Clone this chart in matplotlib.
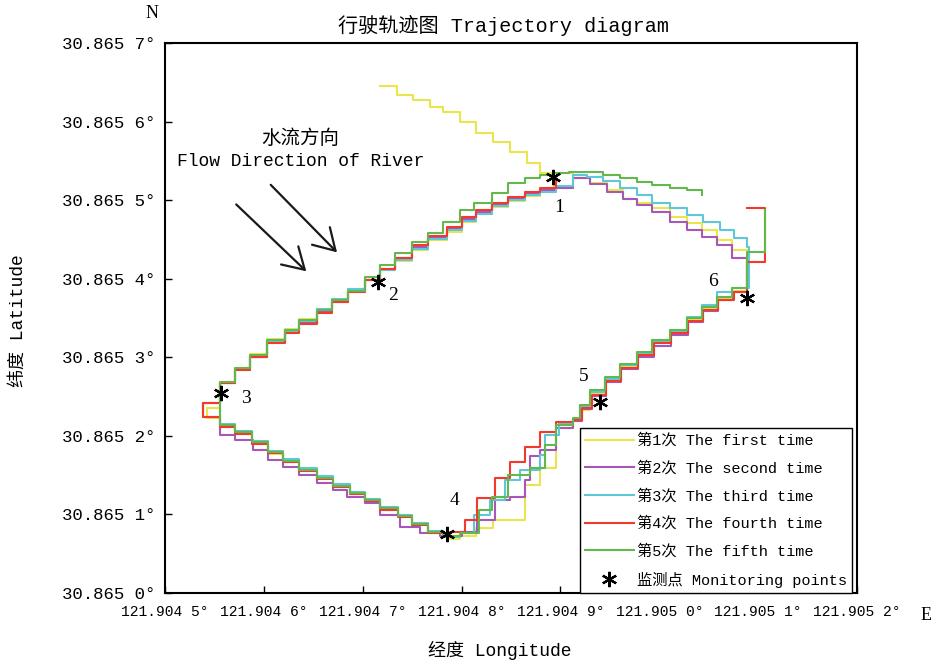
import numpy as np
import matplotlib
matplotlib.use("Agg")
import matplotlib.pyplot as plt
from matplotlib.ticker import FuncFormatter

plt.rcParams["font.family"] = ["Liberation Mono", "Noto Sans CJK SC"]

# all positions are offsets in 1e-6 degree from these origins
LON0, LAT0 = 121.904, 30.865

# (lon, lat) samples of each run, drawn as GPS steps
RUN_1 = [(717, 645), (735, 634), (751, 627), (768, 618), (781, 612), (798, 599), (815, 585), (832, 574),
         (849, 561), (866, 547), (879, 534),
         (913, 528), (930, 522), (947, 513), (963, 502), (977, 496), (993, 490), (1011, 478), (1028, 471),
         (1043, 462), (1058, 449), (1074, 436), (1089, 421), (1089, 385),
         (1075, 374), (1059, 361), (1044, 347), (1029, 332), (1012, 319), (994, 304), (977, 289), (960, 271),
         (945, 253), (930, 233), (922, 220),
         (913, 210), (896, 159), (879, 154), (879, 137), (864, 118), (864, 93), (832, 83), (815, 73), (798, 69),
         (785, 71),
         (781, 78), (766, 87), (750, 97), (736, 107), (717, 117), (702, 126), (687, 135), (670, 146), (654, 155),
         (636, 167), (619, 177), (604, 190), (588, 202), (571, 211), (556, 223), (542, 228), (542, 235),
         (556, 239), (556, 267),
         (571, 287), (586, 304), (603, 323), (621, 336), (636, 349), (654, 361), (669, 374), (685, 387),
         (702, 399), (717, 411), (733, 422), (750, 436), (766, 449), (785, 460), (800, 472), (815, 482),
         (831, 491), (847, 499), (864, 505), (879, 510), (894, 519)]

RUN_2 = [(896, 516), (913, 528),
         (930, 520), (947, 511), (963, 501), (977, 494), (993, 485), (1011, 472), (1028, 462), (1043, 453),
         (1058, 443), (1074, 427), (1089, 417), (1089, 383),
         (1075, 373), (1059, 359), (1044, 345), (1029, 329), (1012, 315), (995, 301), (978, 285), (961, 268),
         (946, 251), (932, 234), (922, 219),
         (913, 210), (896, 182), (879, 174), (869, 144), (864, 122), (849, 118), (834, 93), (816, 78), (800, 73),
         (785, 73),
         (778, 76), (758, 84), (738, 99), (717, 114), (702, 122), (684, 131), (670, 140), (654, 150), (636, 160),
         (619, 169), (604, 182), (589, 195), (571, 201), (556, 207), (556, 224), (538, 229), (538, 242),
         (556, 243), (556, 267),
         (571, 285), (586, 301), (603, 319), (621, 333), (636, 345), (654, 359), (669, 371), (685, 384),
         (702, 398), (717, 412), (733, 426), (750, 440), (766, 453), (785, 463), (800, 476), (815, 485),
         (831, 494), (847, 501), (864, 508), (879, 513), (896, 516)]

RUN_3 = [(896, 518), (913, 532),
         (927, 529), (943, 525), (960, 516), (977, 506), (993, 497), (1011, 490), (1028, 481), (1044, 472),
         (1061, 462), (1076, 452), (1089, 440), (1091, 432), (1091, 388),
         (1074, 383), (1058, 366), (1043, 351), (1028, 333), (1011, 321), (993, 305), (977, 290), (960, 273),
         (945, 256), (930, 238), (920, 221),
         (913, 216), (899, 201), (884, 176), (879, 157), (859, 144), (844, 118), (829, 99), (813, 76), (798, 71),
         (781, 79), (766, 89), (750, 99), (736, 109), (717, 120), (702, 128), (687, 139), (670, 149), (654, 159),
         (636, 170), (619, 181), (604, 193), (588, 206), (571, 215), (556, 219), (556, 267),
         (571, 285), (586, 301), (603, 321), (621, 333), (636, 346), (654, 361), (669, 374), (685, 387),
         (702, 399), (717, 411), (733, 424), (750, 438), (766, 450), (785, 462), (800, 473), (815, 483),
         (831, 492), (847, 500), (864, 506), (879, 511), (896, 515)]

RUN_4 = [(1089, 490), (1107, 487), (1107, 421), (1089, 417), (1089, 383),
         (1076, 373), (1059, 360), (1044, 346), (1029, 331), (1012, 318), (995, 303), (978, 286), (961, 270),
         (946, 252), (932, 235), (922, 220),
         (913, 218), (896, 205), (879, 186), (864, 167), (849, 146), (834, 121), (816, 93), (803, 78), (788, 73),
         (781, 76), (766, 87), (750, 97), (736, 106), (717, 117), (702, 126), (687, 135), (670, 145), (654, 155),
         (636, 167), (619, 178), (604, 190), (588, 202), (571, 211), (556, 224), (538, 229), (538, 242),
         (556, 243), (556, 267),
         (571, 284), (586, 300), (603, 318), (621, 331), (636, 343), (654, 357), (669, 370), (685, 383),
         (702, 398), (717, 413), (733, 427), (750, 443), (766, 455), (785, 466), (800, 478), (815, 487),
         (831, 496), (847, 504), (864, 510), (879, 515), (896, 519), (896, 529)]

RUN_5 = [(1107, 487), (1107, 434), (1089, 429), (1089, 388),
         (1074, 377), (1058, 364), (1043, 350), (1028, 335), (1011, 322), (993, 307), (977, 291), (960, 275),
         (945, 258), (930, 239), (920, 223),
         (913, 214), (896, 188), (884, 159), (869, 150), (847, 122), (831, 106), (818, 76), (798, 73),
         (781, 78), (766, 88), (750, 98), (736, 108), (717, 118), (702, 127), (687, 136), (670, 146), (654, 157),
         (636, 168), (619, 179), (604, 192), (588, 205), (571, 214), (556, 220), (556, 268),
         (571, 286), (586, 303), (603, 322), (621, 335), (636, 347), (654, 360), (669, 373), (685, 385),
         (702, 402), (717, 417), (733, 433), (750, 447), (766, 458), (781, 472), (798, 487), (813, 497),
         (831, 509), (847, 522), (864, 528), (879, 532), (892, 534), (909, 536),
         (943, 532), (960, 528), (977, 523), (993, 519), (1011, 515), (1028, 513), (1043, 506)]

RUNS = [RUN_1, RUN_2, RUN_3, RUN_4, RUN_5]
RUN_LABELS = ["第1次 The first time", "第2次 The second time", "第3次 The third time",
              "第4次 The fourth time", "第5次 The fifth time"]
RUN_COLORS = ["#e8e64a", "#a657b8", "#5ec8da", "#f23a2c", "#62b84a"]

# monitoring points 1..6
POINT_LON = [892, 715, 557, 785, 940, 1089]
POINT_LAT = [529, 396, 254, 75, 243, 375]
POINT_NAMES = ["1", "2", "3", "4", "5", "6"]
NAME_LON = [899, 731, 582, 793, 924, 1054]
NAME_LAT = [490, 378, 247, 118, 275, 397]

# river flow arrows (start, end)
FLOW_ARROWS = [((570, 497), (645, 407)), ((605, 522), (676, 431))]

XTICKS = [121.9045, 121.9046, 121.9047, 121.9048, 121.9049, 121.9050, 121.9051, 121.9052]
YTICKS = [30.8650, 30.8651, 30.8652, 30.8653, 30.8654, 30.8655, 30.8656, 30.8657]


def lon(v):
    return LON0 + np.asarray(v, float) * 1e-6


def lat(v):
    return LAT0 + np.asarray(v, float) * 1e-6


def deg_label(v, _pos):
    s = f"{v:.4f}"
    return s[:-1] + " " + s[-1] + "°"


W, H = 935, 661
fig = plt.figure(figsize=(W / 100, H / 100), dpi=100)
ax = fig.add_axes([165 / W, 1 - 593 / H, 692 / W, 550 / H])

for run, label, color in zip(RUNS, RUN_LABELS, RUN_COLORS):
    pts = np.array(run, float)
    ax.plot(lon(pts[:, 0]), lat(pts[:, 1]), drawstyle="steps-post",
            color=color, lw=1.5, label=label)

ax.plot(lon(POINT_LON), lat(POINT_LAT), ls="none", marker=(6, 2, 0), ms=11,
        mew=1.6, color="black", label="监测点 Monitoring points", zorder=5)

for name, x, y in zip(POINT_NAMES, NAME_LON, NAME_LAT):
    ax.text(lon(x), lat(y), name, ha="center", va="center", fontsize=14,
            family="Liberation Serif")

for (x0, y0), (x1, y1) in FLOW_ARROWS:
    ax.annotate("", xy=(lon(x1), lat(y1)), xytext=(lon(x0), lat(y0)),
                arrowprops=dict(arrowstyle="->,head_length=0.75,head_width=0.45",
                                mutation_scale=20, lw=1.6, color="#1a1a1a"))

ax.text(lon(637), lat(578), "水流方向", ha="center", va="center", fontsize=14,
        family="Noto Sans CJK SC")
ax.text(lon(637), lat(549), "Flow Direction of River", ha="center", va="center",
        fontsize=13)

ax.set_xlim(121.9045, 121.9052)
ax.set_ylim(30.8650, 30.8657)
ax.set_xticks(XTICKS)
ax.set_yticks(YTICKS)
ax.xaxis.set_major_formatter(FuncFormatter(deg_label))
ax.yaxis.set_major_formatter(FuncFormatter(deg_label))
ax.tick_params(axis="both", direction="in", length=5, width=1)
ax.tick_params(axis="x", labelsize=10.5, pad=9)
ax.tick_params(axis="y", labelsize=12.5, pad=7)
for sp in ax.spines.values():
    sp.set_linewidth(1.5)

leg = ax.legend(loc="lower right", bbox_to_anchor=(0.993, 0.0), borderaxespad=0,
                fontsize=11, handlelength=3.2, handletextpad=0.2, labelspacing=0.85,
                borderpad=0.35, fancybox=False, framealpha=1, edgecolor="black")
leg.get_frame().set_linewidth(1.0)

fig.text(503 / W, 1 - 25 / H, "行驶轨迹图 Trajectory diagram", ha="center", va="center",
         fontsize=14.5)
fig.text(152 / W, 1 - 13 / H, "N", ha="center", va="center", fontsize=13,
         family="Liberation Serif")
fig.text(926 / W, 1 - 615 / H, "E", ha="center", va="center", fontsize=13,
         family="Liberation Serif")
fig.text(500 / W, 1 - 650 / H, "经度 Longitude", ha="center", va="center", fontsize=13)
fig.text(18 / W, 1 - 321 / H, "纬度 Latitude", ha="center", va="center", fontsize=13,
         rotation=90)

fig.savefig("out.png", dpi=100)
